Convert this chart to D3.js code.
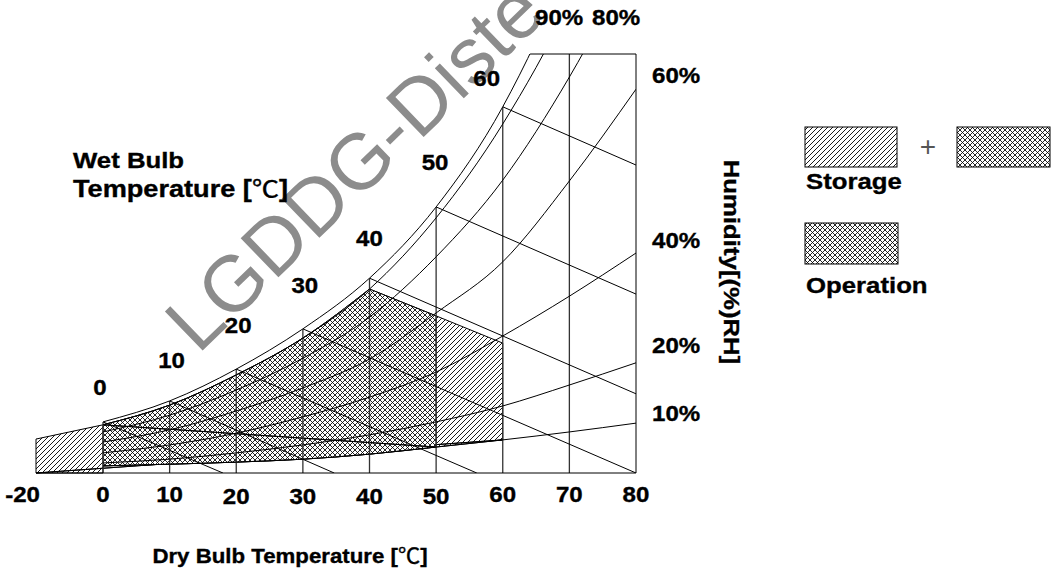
<!DOCTYPE html>
<html>
<head>
<meta charset="utf-8">
<script src="https://d3js.org/d3.v7.min.js"></script>
<style>
body { margin: 0; background: #fff; }
svg text { font-family: "Liberation Sans", Arial, sans-serif; font-weight: bold; fill: #000; }
svg text.lbl { stroke: #000; stroke-width: 0.35px; }
svg .cel { font-family: "Noto Sans CJK SC", "DejaVu Sans", sans-serif; font-weight: normal; }
.line { fill: none; stroke: #000; stroke-width: 1; }
.dry { fill: none; stroke: #333; stroke-width: 1.3; }
</style>
</head>
<body>
<script>
var w = 1052, h = 588;

/* dry bulb temperature [℃] */
var dryTicks = [-20, 0, 10, 20, 30, 40, 50, 60, 70, 80];
var dryLines = [0, 10, 20, 30, 40, 50, 60, 70];

/* relative humidity curves: humidity at each dry bulb temp */
var rhTemps = [0, 10, 20, 30, 40, 50, 60, 70, 80];
var rh100 = [12.2, 17.2, 24.8, 34.4, 46.5, 63.5, 87.4, 121.5, 167];
var rh90 = [11.5, 16.2, 23.4, 32.2, 43.9, 60.9, 83.3, 112.2, 150];
var rh80 = [9.8, 13.8, 19.8, 27.4, 37.2, 51.6, 69.9, 94.5, 124.1];
var rh60 = [7.4, 10.3, 14.8, 20.3, 27.2, 38.2, 50.4, 69.7, 91.6];
var rh40 = [4.8, 6.7, 9.5, 13.4, 18.1, 24.1, 32.7, 42.2, 52.5];
var rh20 = [2.4, 3.3, 4.8, 6.7, 9.1, 12.2, 16.0, 21.0, 26.3];
var rh10 = [1.7, 2.1, 2.6, 3.3, 4.5, 6.2, 7.9, 9.8, 11.9];

/* wet bulb lines: start on saturation, end where they leave the chart */
var wbTemps = [0, 10, 20, 30, 40, 50, 60];
var wbEndT = [18.0, 34.7, 56.1, 80, 80, 80, 80];
var wbEndH = [0, 0, 0, 0, 18.9, 42.7, 73.5];

/* storage / operation envelopes */
var storageRange = [-20, 60];
var storageCornerH = 8.1;
var operationRange = [0, 50];
var limitT = [40, 50, 60];
var limitH = [43.9, 37.5, 31.0];

/* scales */
var x = d3.scaleLinear().domain([-20, 0, 80]).range([36, 103, 636]);
var y = d3.scaleLinear().domain([0, 100]).range([473, 54]);

var smooth = d3.line().x(function(d) { return x(d[0]); }).y(function(d) { return y(d[1]); }).curve(d3.curveMonotoneX);
var straight = d3.line().x(function(d) { return x(d[0]); }).y(function(d) { return y(d[1]); });

function pts(vals, from, to) {
    return rhTemps.map(function(t, i) { return [t, vals[i]]; })
        .filter(function(d) { return d[0] >= from && d[0] <= to; });
}
function at(vals, t) { return vals[rhTemps.indexOf(t)]; }
function join() {
    return Array.prototype.slice.call(arguments).map(function(s, i) {
        return i ? s.replace(/^M/, "L") : s;
    }).join("") + "Z";
}

var svg = d3.select("body").append("svg").attr("width", w).attr("height", h);
var defs = svg.append("defs");

defs.append("pattern").attr("id", "hatch").attr("patternUnits", "userSpaceOnUse")
    .attr("width", 5).attr("height", 5)
    .append("path").attr("d", "M-1,1L1,-1M0,5L5,0M4,6L6,4")
    .attr("stroke", "#000").attr("stroke-width", 0.9);

var cross = defs.append("pattern").attr("id", "cross").attr("patternUnits", "userSpaceOnUse")
    .attr("width", 5).attr("height", 5);
cross.append("rect").attr("width", 5).attr("height", 5).attr("fill", "#fff");
cross.append("path").attr("d", "M-1,1L1,-1M0,5L5,0M4,6L6,4M-1,4L1,6M0,0L5,5M4,-1L6,1")
    .attr("stroke", "#000").attr("stroke-width", 0.85);

/* clip: under the saturation curve */
var satArea = d3.area().x(function(d) { return x(d[0]); })
    .y0(y(0)).y1(function(d) { return y(d[1]); }).curve(d3.curveMonotoneX);
var satClip = defs.append("clipPath").attr("id", "satClip");
satClip.append("path").attr("d", satArea(pts(rh100, 0, 80)));
satClip.append("rect").attr("x", x(0) - 3).attr("width", 3)
    .attr("y", y(at(rh100, 0))).attr("height", y(0) - y(at(rh100, 0)));

defs.append("clipPath").attr("id", "topClip").append("rect")
    .attr("x", 0).attr("y", y(100)).attr("width", w).attr("height", h - y(100));

/* storage envelope (hatched) */
var s0 = storageRange[0], s1 = storageRange[1];
svg.append("path")
    .attr("d", join(
        straight([[s0, 0], [s0, storageCornerH]]),
        smooth(pts(rh90, 0, limitT[0])),
        straight(limitT.map(function(t, i) { return [t, limitH[i]]; })),
        straight([[s1, at(rh10, s1)]]),
        smooth(pts(rh10, 0, s1).reverse()),
        straight([[0, 0]])))
    .attr("fill", "url(#hatch)").attr("stroke", "#000").attr("stroke-width", 1);

/* operation envelope (cross hatched) */
var o1 = operationRange[1];
svg.append("path")
    .attr("d", join(
        smooth(pts(rh90, operationRange[0], limitT[0])),
        straight(limitT.map(function(t, i) { return [t, limitH[i]]; }).filter(function(d) { return d[0] <= o1; })),
        straight([[o1, at(rh10, o1)]]),
        smooth(pts(rh10, operationRange[0], o1).reverse())))
    .attr("fill", "url(#cross)").attr("stroke", "#000").attr("stroke-width", 1);

/* grid */
var gSat = svg.append("g").attr("clip-path", "url(#satClip)");
var grid = gSat.append("g").attr("clip-path", "url(#topClip)");

grid.selectAll(".dry").data(dryLines).enter().append("line")
    .attr("class", "dry")
    .attr("x1", function(d) { return x(d); }).attr("x2", function(d) { return x(d); })
    .attr("y1", y(0)).attr("y2", y(100));

grid.selectAll(".rh").data([rh90, rh80, rh60, rh40, rh20, rh10]).enter().append("path")
    .attr("class", "line rh")
    .attr("d", function(d) { return smooth(pts(d, 0, 80)); });

grid.selectAll(".wb").data(wbTemps).enter().append("path")
    .attr("class", "line wb")
    .attr("d", function(d, i) { return straight([[d, at(rh100, d)], [wbEndT[i], wbEndH[i]]]); });

/* top edge, cut where saturation leaves the chart */
gSat.append("line").attr("class", "line")
    .attr("x1", x(0)).attr("x2", x(80)).attr("y1", y(100)).attr("y2", y(100));

svg.append("g").attr("clip-path", "url(#topClip)")
    .append("path").attr("class", "line").attr("d", smooth(pts(rh100, 0, 80)));

svg.append("line").attr("class", "line")
    .attr("x1", x(-20)).attr("x2", x(80)).attr("y1", y(0)).attr("y2", y(0));
svg.append("line").attr("class", "line")
    .attr("x1", x(80)).attr("x2", x(80)).attr("y1", y(0)).attr("y2", y(100));

/* watermark */
svg.append("text")
    .attr("transform", "translate(198,355) rotate(-44)")
    .style("font-weight", "normal").style("font-size", "79px").style("fill", "#8c8c8c")
    .text("LGDDG-Diste");

/* text */
function label(px, py, str, size, anchor, rot, sx) {
    var t = svg.append("text").attr("class", "lbl")
        .attr("transform", "translate(" + px + "," + py + ")" + (rot ? " rotate(" + rot + ")" : "") + " scale(" + (sx || 1.12) + ",1)")
        .attr("text-anchor", anchor || "start")
        .style("font-size", size + "px");
    str.split("℃").forEach(function(part, i) {
        if (i) t.append("tspan").attr("class", "cel").text("℃");
        t.append("tspan").text(part);
    });
    return t;
}

dryTicks.forEach(function(t) {
    var drop = (t >= 20 && t <= 50) ? 2 : 0;
    label(t < 0 ? x(t) + 4 : x(t), 502 + drop, String(t), 21.5, t < 0 ? "end" : "middle");
});

label(x(0) + 432, 25, "90%", 21.5);
label(x(0) + 489, 25, "80%", 21.5);
[["60%", 83], ["40%", 248], ["20%", 353], ["10%", 421]].forEach(function(d) {
    label(x(80) + 16, d[1], d[0], 21.5);
});

var wbNudge = [[-3, -27], [2, -33], [2, -36], [2, -36], [0, -32], [-1, -37], [-16, -21]];
wbTemps.forEach(function(t, i) {
    label(x(t) + wbNudge[i][0], y(at(rh100, t)) + wbNudge[i][1], String(t), 21.5, "middle");
});

label(73, 168, "Wet Bulb", 23);
label(73, 197, "Temperature [℃]", 23, "start", 0, 1.18);
label(290, 563, "Dry Bulb Temperature [℃]", 21, "middle", 0, 1.06);
label(724, 262, "Humidity[(%)RH]", 23, "middle", 90);

/* legend */
svg.append("rect").attr("x", 805).attr("y", 127).attr("width", 92).attr("height", 40)
    .attr("fill", "url(#hatch)").attr("stroke", "#000");
svg.append("rect").attr("x", 957).attr("y", 127).attr("width", 93).attr("height", 40)
    .attr("fill", "url(#cross)").attr("stroke", "#000");
svg.append("rect").attr("x", 805).attr("y", 223).attr("width", 93).attr("height", 41)
    .attr("fill", "url(#cross)").attr("stroke", "#000");
svg.append("text").attr("x", 928).attr("y", 156).attr("text-anchor", "middle")
    .style("font-weight", "normal").style("font-size", "28px").style("fill", "#555").text("+");
label(806, 189, "Storage", 23);
label(806, 293, "Operation", 23);
</script>
</body>
</html>
